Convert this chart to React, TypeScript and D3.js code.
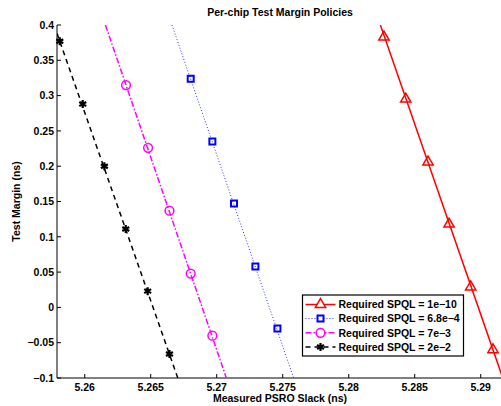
import React from 'react';
import * as d3 from 'd3';

// marker positions
const redX = [5.28267, 5.28432, 5.28601, 5.2876, 5.28924, 5.29093];
const redY = [0.383, 0.295, 0.206, 0.118, 0.029, -0.06];
const blueX = [5.26803, 5.26967, 5.27131, 5.27293, 5.2746];
const blueY = [0.324, 0.235, 0.147, 0.058, -0.03];
const magentaX = [5.26313, 5.2648, 5.26642, 5.26803, 5.26967];
const magentaY = [0.315, 0.226, 0.137, 0.048, -0.04];
const blackX = [5.25811, 5.25985, 5.26149, 5.26311, 5.26477, 5.26642];
const blackY = [0.377, 0.288, 0.2, 0.111, 0.023, -0.066];

// full line extents (top at 0.4, bottom at -0.1)
const lineY = [0.4, -0.1];
const redLineX = [5.2824, 5.29167];
const blueLineX = [5.26661, 5.27583];
const magentaLineX = [5.26157, 5.27073];
const blackLineX = [5.25768, 5.26705];

const xTicks = [5.26, 5.265, 5.27, 5.275, 5.28, 5.285, 5.29];
const yTicks = [-0.1, -0.05, 0, 0.05, 0.1, 0.15, 0.2, 0.25, 0.3, 0.35, 0.4];
const legendLabels = [
  'Required SPQL = 1e\u221210',
  'Required SPQL = 6.8e\u22124',
  'Required SPQL = 7e\u22123',
  'Required SPQL = 2e\u22122',
];

const W = 501;
const H = 406;
const left = 57;
const top = 25;
const bottom = 378;
const font = '"Liberation Sans", Arial, Helvetica, sans-serif';

const x = d3.scaleLinear().domain([5.2579, 5.2925]).range([left, left + 0.0346 * 13200]);
const y = d3.scaleLinear().domain([-0.1, 0.4]).range([bottom, top]);

const fmtX = (v: number) => d3.format('.3~f')(v);
const fmtY = (v: number) => d3.format('.2~f')(v).replace('-', '\u2212');

type Series = {
  xs: number[];
  ys: number[];
  lx: number[];
  color: string;
  width: number;
  dash: string;
  symbol: d3.SymbolType;
  size: number;
  mw: number;
};

const series: Series[] = [
  { xs: redX, ys: redY, lx: redLineX, color: '#ff0000', width: 1.5, dash: '', symbol: d3.symbolTriangle, size: 46, mw: 1.5 },
  { xs: blueX, ys: blueY, lx: blueLineX, color: '#0000ff', width: 0.8, dash: '1,2', symbol: d3.symbolSquare, size: 36, mw: 2 },
  { xs: magentaX, ys: magentaY, lx: magentaLineX, color: '#ff00ff', width: 1.5, dash: '6,2,1.5,2', symbol: d3.symbolCircle, size: 60, mw: 1.5 },
  { xs: blackX, ys: blackY, lx: blackLineX, color: '#000000', width: 1.5, dash: '5,4', symbol: d3.symbolAsterisk, size: 45, mw: 2.2 },
];

const line = d3.line<[number, number]>().x(d => x(d[0])).y(d => y(d[1]));

export default function App() {
  const legX = 302.5;
  const legY = 295;
  const legW = 161;
  const legH = 61;
  const rows = [304.5, 318.5, 332.8, 347];
  return (
    <svg width={W} height={H} style={{ position: 'absolute', left: 0, top: 0, background: '#fff' }} fontFamily={font}>
      <defs>
        <clipPath id="plot">
          <rect x={left} y={top} width={W - left} height={bottom - top} />
        </clipPath>
      </defs>
      <rect width={W} height={H} fill="#fff" />
      <text x={280} y={16} textAnchor="middle" fontSize={10.5} fontWeight="bold">Per-chip Test Margin Policies</text>

      {/* axes */}
      <line x1={left} x2={W} y1={bottom} y2={bottom} stroke="#000" strokeWidth={1} />
      <line x1={left} x2={left} y1={top} y2={bottom} stroke="#000" strokeWidth={1} />
      {xTicks.map(t => (
        <g key={t}>
          <line x1={x(t)} x2={x(t)} y1={bottom} y2={bottom - 4} stroke="#000" />
          <text x={x(t)} y={390.5} textAnchor="middle" fontSize={10.5} fontWeight="bold">{fmtX(t)}</text>
        </g>
      ))}
      {yTicks.map(t => (
        <g key={t}>
          <line x1={left} x2={left + 4} y1={y(t)} y2={y(t)} stroke="#000" />
          <text x={54} y={y(t)} dy="0.36em" textAnchor="end" fontSize={10.5} fontWeight="bold">{fmtY(t)}</text>
        </g>
      ))}
      <text x={280} y={402} textAnchor="middle" fontSize={10.5} fontWeight="bold">Measured PSRO Slack (ns)</text>
      <text transform={`translate(20,${(top + bottom) / 2}) rotate(-90)`} textAnchor="middle" fontSize={10.5} fontWeight="bold">Test Margin (ns)</text>

      {/* series */}
      <g clipPath="url(#plot)">
        {series.map((s, i) => (
          <path key={'l' + i}
            d={line(s.lx.map((v, j) => [v, lineY[j]] as [number, number])) || ''}
            fill="none" stroke={s.color} strokeWidth={s.width} strokeDasharray={s.dash || undefined} />
        ))}
      </g>
      {series.map((s, i) => (
        <g key={'m' + i}>
          {s.xs.map((v, j) => (
            <path key={j} transform={`translate(${x(v)},${y(s.ys[j])})`}
              d={d3.symbol(s.symbol, s.size)() || ''} fill="none" stroke={s.color} strokeWidth={s.mw} />
          ))}
        </g>
      ))}

      {/* legend */}
      <rect x={legX} y={legY} width={legW} height={legH} fill="#fff" stroke="#000" strokeWidth={1.2} />
      {series.map((s, i) => (
        <g key={'g' + i}>
          <line x1={legX + 3} x2={legX + 33} y1={rows[i]} y2={rows[i]} stroke={s.color} strokeWidth={s.width} strokeDasharray={s.dash || undefined} />
          <path transform={`translate(${legX + 18},${rows[i]})`} d={d3.symbol(s.symbol, s.size)() || ''} fill="#fff" stroke={s.color} strokeWidth={s.mw} />
          <text x={legX + 36} y={rows[i]} dy="0.36em" fontSize={10.5} fontWeight="bold">{legendLabels[i]}</text>
        </g>
      ))}
    </svg>
  );
}
